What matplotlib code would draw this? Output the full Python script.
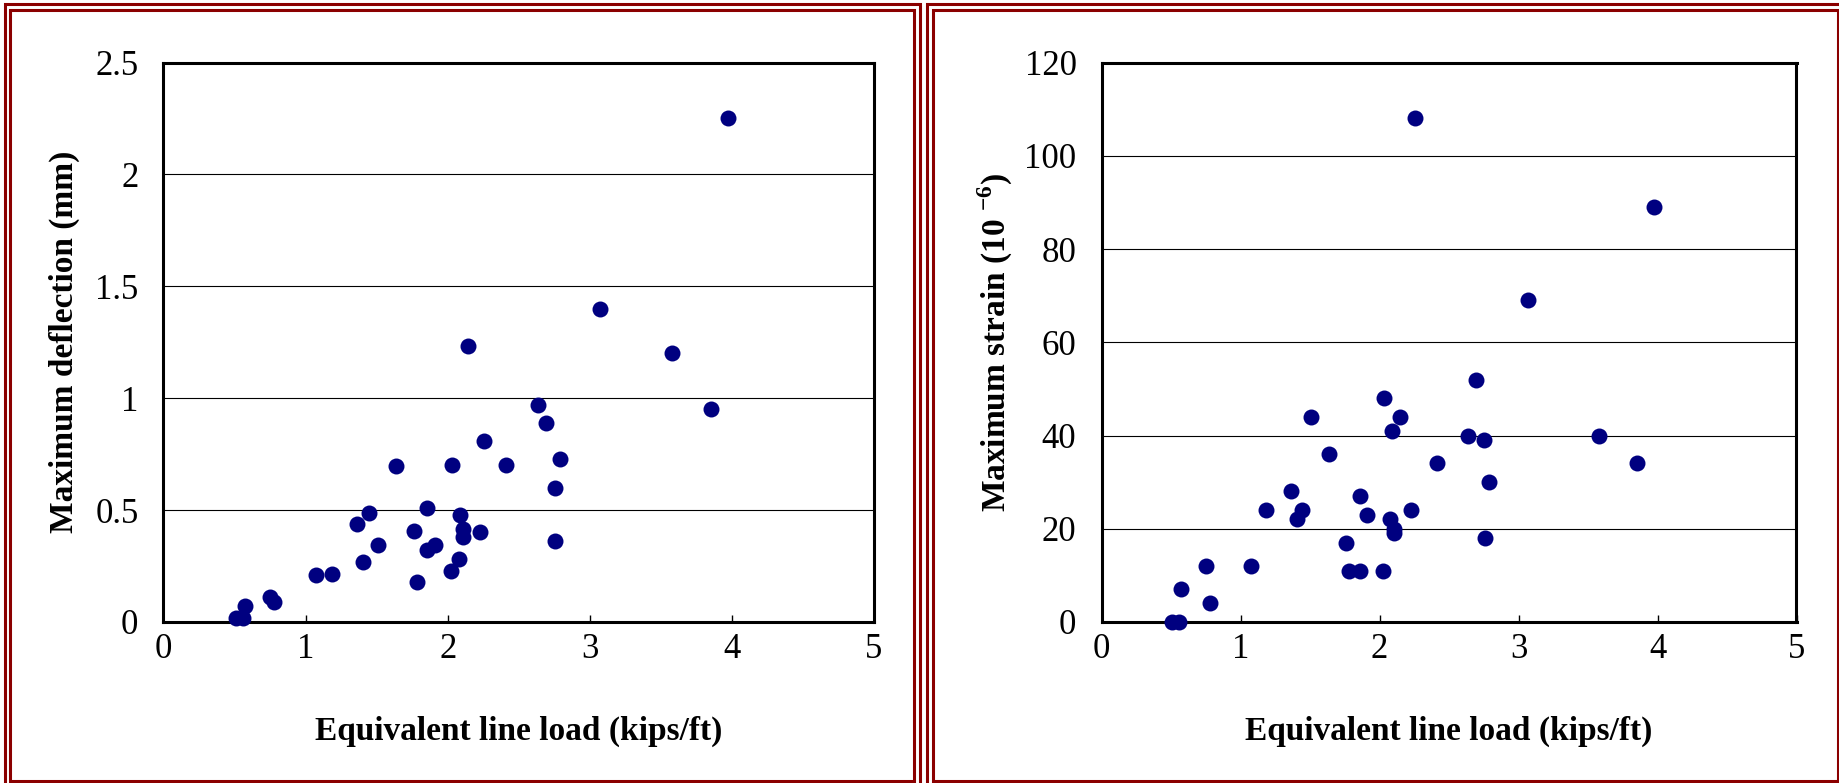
import matplotlib.pyplot as plt
from matplotlib.patches import Rectangle
from matplotlib.ticker import FuncFormatter

# equivalent line load for each test (kips/ft), shared by both panels
load = [0.51, 0.56, 0.575, 0.75, 0.78, 1.075, 1.186, 1.362, 1.404, 1.444,
        1.509, 1.635, 1.76, 1.781, 1.857, 1.857, 1.911, 2.026, 2.031, 2.079,
        2.088, 2.106, 2.106, 2.146, 2.224, 2.253, 2.412, 2.636, 2.695, 2.752,
        2.756, 2.787, 3.07, 3.579, 3.856, 3.973]

# maximum deflection (mm)
deflection = [0.02, 0.02, 0.07, 0.11, 0.09, 0.21, 0.215, 0.44, 0.27, 0.485,
              0.345, 0.695, 0.405, 0.18, 0.51, 0.32, 0.345, 0.23, 0.70, 0.28,
              0.48, 0.415, 0.38, 1.235, 0.40, 0.81, 0.70, 0.97, 0.89, 0.60,
              0.36, 0.73, 1.40, 1.20, 0.95, 2.25]

# maximum strain (microstrain)
strain = [0, 0, 7, 12, 4, 12, 24, 28, 22, 24,
          44, 36, 17, 11, 27, 11, 23, 11, 48, 22,
          41, 20, 19, 44, 24, 108, 34, 40, 52, 39,
          18, 30, 69, 40, 34, 89]

x_ticks = [0, 1, 2, 3, 4, 5]
deflection_ticks = [0, 0.5, 1, 1.5, 2, 2.5]
strain_ticks = [0, 20, 40, 60, 80, 100, 120]

plt.rcParams['font.family'] = 'Liberation Serif'
plt.rcParams['mathtext.fontset'] = 'custom'
plt.rcParams['mathtext.rm'] = 'Liberation Serif'
plt.rcParams['mathtext.bf'] = 'Liberation Serif:bold'

W, H = 1840, 783
fig = plt.figure(figsize=(W / 100, H / 100), dpi=100)

frame_color = '#8B0000'


def px_rect(x0, y0, x1, y1, lw):
    """Add a frame rectangle given in pixel coords (origin top-left)."""
    r = Rectangle((x0 / W, 1 - y1 / H), (x1 - x0) / W, (y1 - y0) / H,
                  transform=fig.transFigure, fill=False,
                  edgecolor=frame_color, linewidth=lw)
    fig.add_artist(r)


# double borders around each panel
px_rect(5.5, 4.5, 920.5, 795, 2.2)
px_rect(10.5, 10, 914.5, 780.5, 2.2)
px_rect(927, 4.5, 1850, 795, 2.2)
px_rect(933, 10, 1837.5, 780.5, 2.2)


def scatter_panel(left, right, yvals, yticks, ylabel, label_x):
    top, bottom = 62.5, 622
    ax = fig.add_axes([left / W, 1 - bottom / H, (right - left) / W, (bottom - top) / H])
    ax.plot(load, yvals, 'o', color='#000080', markersize=11.5,
            markeredgewidth=0, clip_on=False, zorder=5)

    ax.set_xlim(0, 5)
    ax.set_ylim(yticks[0], yticks[-1])
    ax.set_xticks(x_ticks)
    ax.set_yticks(yticks)
    ax.yaxis.set_major_formatter(FuncFormatter(lambda v, p: '%g' % v))

    ax.grid(axis='y', color='black', linewidth=0.8)
    ax.set_axisbelow(True)
    for s in ax.spines.values():
        s.set_linewidth(2.2)

    ax.tick_params(axis='x', direction='in', length=5, width=1, pad=8, labelsize=25)
    ax.tick_params(axis='y', direction='in', length=0, pad=18, labelsize=25)

    ax.set_xlabel('Equivalent line load (kips/ft)', fontsize=24, fontweight='bold')
    ax.xaxis.set_label_coords(0.5, -0.168)
    ax.set_ylabel(ylabel, fontsize=24, fontweight='bold', va='center')
    ax.yaxis.set_label_coords(label_x, 0.5)
    return ax


scatter_panel(163.5, 874, deflection, deflection_ticks,
              'Maximum deflection (mm)', -0.140)
scatter_panel(1101.5, 1796.5, strain, strain_ticks,
              r'Maximum strain (10 $^{\mathbf{-6}}$)', -0.153)

fig.savefig('out.png', dpi=100)
